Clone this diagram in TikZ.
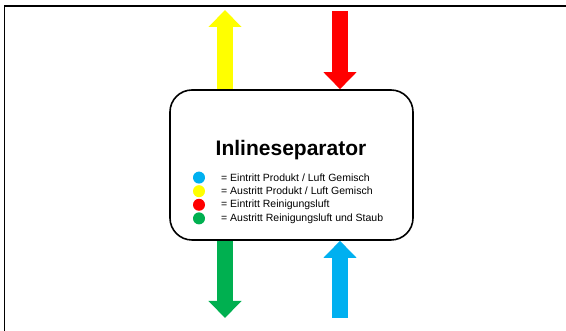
\documentclass[tikz,border=0pt]{standalone}
\usepackage{fontspec}
\setmainfont{Liberation Sans}
\usetikzlibrary{arrows.meta}
\definecolor{ein}{HTML}{00B0F0}
\definecolor{aus}{HTML}{FFFF00}
\definecolor{rein}{HTML}{FF0000}
\definecolor{staub}{HTML}{00B050}
\tikzset{
  flow/.style={line width=16pt,-{Triangle[width=32pt,length=17pt]}},
  dot/.style={circle,fill=#1,minimum size=12pt,inner sep=0pt},
  legtext/.style={anchor=west,inner sep=0pt,font=\fontsize{10.5}{12}\selectfont}
}
\begin{document}
\begin{tikzpicture}[x=1pt,y=1pt]
\useasboundingbox (0,0) rectangle (566,331);
\draw[line width=1.2pt] (566,325) -- (4.5,325) -- (4.5,0);
\node[draw,line width=1.6pt,rounded corners=22pt,minimum width=243pt,minimum height=150pt] (sep) at (291.5,166) {};
\node[font=\bfseries\fontsize{21}{24}\selectfont] (title) at (291,181) {Inlineseparator};
\coordinate (yt) at (225,321);
\coordinate (rt) at (340,320);
\coordinate (gb) at (225,13);
\coordinate (bb) at (340,13);
\draw[flow,aus] (sep.north -| yt) -- (yt);
\draw[flow,rein] (rt) -- (sep.north -| rt);
\draw[flow,staub] (sep.south -| gb) -- (gb);
\draw[flow,ein] (bb) -- (sep.south -| bb);
\foreach \c/\t [count=\i] in {ein/{= Eintritt Produkt / Luft Gemisch},aus/{= Austritt Produkt / Luft Gemisch},rein/{= Eintritt Reinigungsluft},staub/{= Austritt Reinigungsluft und Staub}}
{
  \node[dot=\c] (d\i) at (199,167-13.6*\i) {};
  \node[legtext] (t\i) at (221,167-13.6*\i) {\t};
}
\end{tikzpicture}
\end{document}
